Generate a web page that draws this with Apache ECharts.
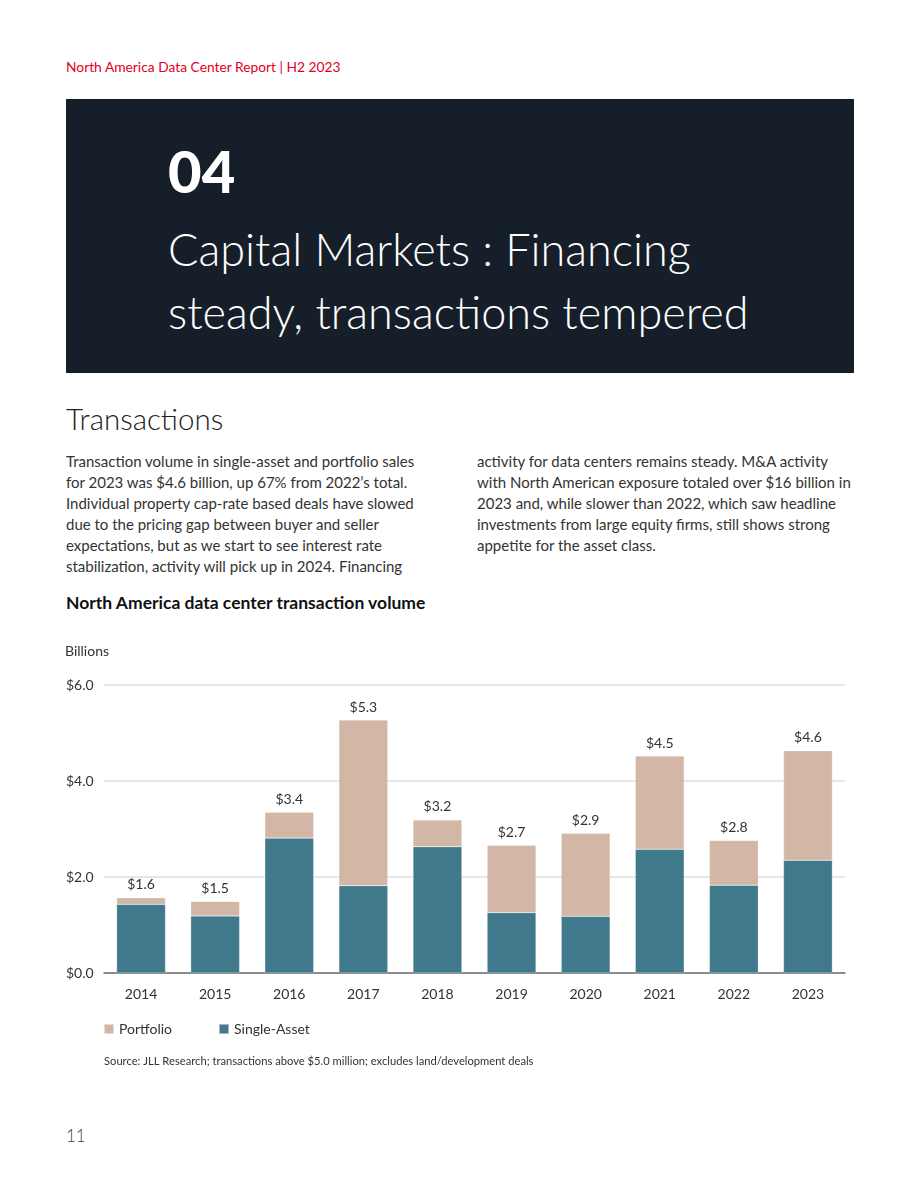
<!DOCTYPE html>
<html>
<head>
<meta charset="utf-8">
<script src="https://cdn.jsdelivr.net/npm/echarts@6/dist/echarts.min.js"></script>
<style>
	body { margin: 0; background: #fff; font-family: "Source Sans Pro", Lato, "Noto Sans", sans-serif; color: #222; }
	.page { position: relative; width: 920px; height: 1191px; overflow: hidden; }
	.running-head { position: absolute; left: 66px; top: 58px; font-size: 13.8px; color: #e2001a; }
	.banner { position: absolute; left: 66px; top: 99px; width: 788px; height: 274px; background: #161f29; }
	.banner .num { position: absolute; left: 102px; top: 37px; font-size: 58px; font-weight: 900; color: #fff; }
	.banner .title { position: absolute; left: 102px; top: 119px; font-size: 45px; font-weight: 300; line-height: 63px; color: #fff; }
	.section { position: absolute; left: 66px; top: 401px; font-size: 29.5px; font-weight: 300; color: #222; }
	.col { position: absolute; top: 451px; font-size: 15px; line-height: 21px; color: #333; white-space: nowrap; }
	.col.left { left: 66px; }
	.col.right { left: 477px; }
	.chart-title { position: absolute; left: 66px; top: 592px; font-size: 17.5px; font-weight: 700; color: #111; }
	#chart { position: absolute; left: 0; top: 630px; width: 920px; height: 460px; }
	.page-num { position: absolute; left: 66px; top: 1125px; font-size: 17px; color: #444; font-weight: 300; }
</style>
</head>
<body>
<div class="page">
	<div class="running-head">North America Data Center Report | H2 2023</div>
	<div class="banner">
		<div class="num">04</div>
		<div class="title">Capital Markets : Financing<br>steady, transactions tempered</div>
	</div>
	<div class="section">Transactions</div>
	<div class="col left">Transaction volume in single-asset and portfolio sales<br>for 2023 was $4.6 billion, up 67% from 2022’s total.<br>Individual property cap-rate based deals have slowed<br>due to the pricing gap between buyer and seller<br>expectations, but as we start to see interest rate<br>stabilization, activity will pick up in 2024. Financing</div>
	<div class="col right">activity for data centers remains steady. M&amp;A activity<br>with North American exposure totaled over $16 billion in<br>2023 and, while slower than 2022, which saw headline<br>investments from large equity firms, still shows strong<br>appetite for the asset class.</div>
	<div class="chart-title">North America data center transaction volume</div>
	<div id="chart"></div>
	<div class="page-num">11</div>
</div>
<script>
	var years = ['2014', '2015', '2016', '2017', '2018', '2019', '2020', '2021', '2022', '2023'];
	var singleAsset = [1.43, 1.19, 2.81, 1.82, 2.63, 1.26, 1.18, 2.58, 1.83, 2.35];
	var portfolio = [0.14, 0.30, 0.54, 3.45, 0.56, 1.40, 1.73, 1.94, 0.93, 2.28];
	var totals = [1.6, 1.5, 3.4, 5.3, 3.2, 2.7, 2.9, 4.5, 2.8, 4.6];
	var yTicks = [0, 2, 4, 6];

	var font = '"Source Sans Pro", Lato, "Noto Sans", sans-serif';
	var chart = echarts.init(document.getElementById('chart'));

	/* 柱状图配置 */
	var option = {
		animation: false,
		textStyle: { fontFamily: font },
		title: {
			text: 'Billions',
			left: 60,
			top: 9,
			textStyle: { fontSize: 14, fontWeight: 'normal', color: '#333', fontFamily: font }
		},
		legend: {
			data: ['Portfolio', 'Single-Asset'],
			left: 98,
			top: 387,
			icon: 'rect',
			itemWidth: 10,
			itemHeight: 10,
			itemGap: 46,
			textStyle: { fontSize: 14, color: '#333', fontFamily: font }
		},
		graphic: [{
			type: 'text',
			left: 104,
			top: 426,
			style: {
				text: 'Source: JLL Research; transactions above $5.0 million; excludes land/development deals',
				font: '11.2px ' + font,
				fill: '#333'
			}
		}],
		grid: { left: 104, right: 75, top: 55, height: 288 },
		xAxis: {
			type: 'category',
			data: years,
			axisTick: { show: false },
			axisLine: { lineStyle: { color: '#6f6f6f', width: 1.5 } },
			axisLabel: { color: '#333', fontSize: 14, margin: 14 }
		},
		yAxis: {
			type: 'value',
			min: yTicks[0],
			max: yTicks[yTicks.length - 1],
			interval: 2,
			axisLine: { show: false },
			axisTick: { show: false },
			splitLine: { lineStyle: { color: '#dedede', width: 1.5 } },
			axisLabel: {
				color: '#333',
				fontSize: 14,
				align: 'left',
				margin: 38,
				formatter: function (v) { return '$' + v.toFixed(1); }
			}
		},
		series: [{
			name: 'Single-Asset',
			type: 'bar',
			stack: 'total',
			barWidth: '66%',
			data: singleAsset,
			itemStyle: { color: '#41798c', borderColor: 'rgba(255,255,255,0.5)', borderWidth: 0.5 }
		}, {
			name: 'Portfolio',
			type: 'bar',
			stack: 'total',
			data: portfolio,
			itemStyle: { color: '#d2b7a6', borderColor: 'rgba(255,255,255,0.5)', borderWidth: 0.5 },
			label: {
				show: true,
				position: 'top',
				distance: 6,
				color: '#333',
				fontSize: 14,
				formatter: function (p) { return '$' + totals[p.dataIndex].toFixed(1); }
			}
		}]
	};
	chart.setOption(option);
</script>
</body>
</html>
